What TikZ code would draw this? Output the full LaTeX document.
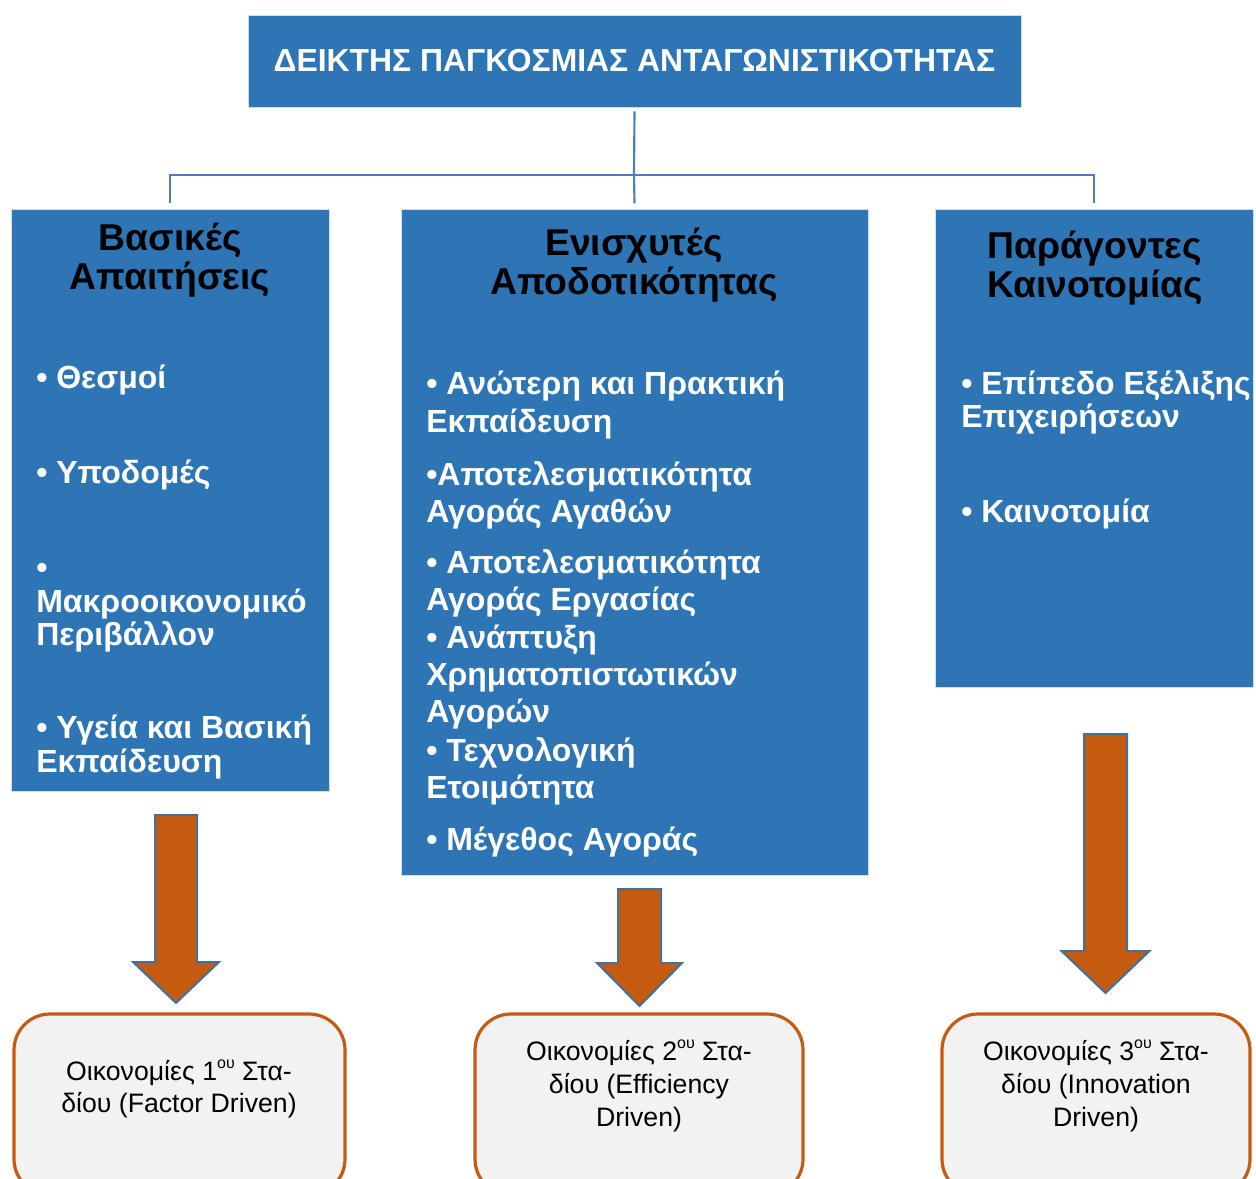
\documentclass[tikz,border=0pt]{standalone}
\usepackage{fontspec}
\setmainfont{Liberation Sans}
\usetikzlibrary{fit}
\definecolor{boxblue}{RGB}{46,117,182}
\definecolor{boxedge}{RGB}{205,222,240}
\definecolor{linkblue}{RGB}{74,126,187}
\definecolor{arrowfill}{RGB}{197,90,17}
\definecolor{arrowline}{RGB}{65,113,156}
\definecolor{stagefill}{RGB}{242,242,242}
\definecolor{stageline}{RGB}{197,90,17}
\newcommand\blockarrowpath[6]{% x, ytop, ybase, ytip, half shaft, half head
  \draw[blockarrow] (#1-#5,#2) -- (#1+#5,#2) -- (#1+#5,#3) -- (#1+#6,#3) -- (#1,#4) -- (#1-#6,#3) -- (#1-#5,#3) -- cycle;}
\newcommand\ordsup[1]{\raisebox{0.42em}{\fontsize{12}{12}\selectfont #1}}
\begin{document}
\begin{tikzpicture}[x=0.75pt,y=-0.75pt,
  bluebox/.style={fill=boxblue, draw=boxedge, line width=0.6pt, inner sep=0pt},
  conn/.style={draw=linkblue, line width=1.6pt},
  stagebox/.style={fill=stagefill, draw=stageline, line width=2.4pt, rounded corners=27pt, inner sep=0pt},
  blockarrow/.style={fill=arrowfill, draw=arrowline, line width=1.5pt, line join=miter},
  titletext/.style={text=white, font=\fontsize{23.9}{28}\selectfont\bfseries, inner sep=0pt, anchor=base},
  headtext/.style={text=black, font=\fontsize{28}{30}\selectfont\bfseries, inner sep=0pt, anchor=base},
  itemtext/.style={text=white, font=\fontsize{24}{28}\selectfont\bfseries, inner sep=0pt, anchor=base west},
  stagetext/.style={text=black, font=\fontsize{20}{24}\selectfont, inner sep=0pt, anchor=base},
]
\useasboundingbox (0,0) rectangle (1256,1178);
\clip (0,0) rectangle (1256,1178);

% title
\node[bluebox, fit={(248,15)(1021,107)}] (title) {};
\node[titletext] (titlet) at (634.5,71) {ΔΕΙΚΤΗΣ ΠΑΓΚΟΣΜΙΑΣ ΑΝΤΑΓΩΝΙΣΤΙΚΟΤΗΤΑΣ};

% pillar boxes
\node[bluebox, fit={(11,209)(329,791)}] (b1) {};
\node[bluebox, fit={(401,209)(868,875)}] (b2) {};
\node[bluebox, fit={(935,209)(1253,687)}] (b3) {};

% tree connector
\coordinate (hub) at (634,175);
\draw[conn] ([yshift=-3]title.south) -- (hub);
\draw[conn] ([yshift=4]b1.north -| 170,0) |- (hub) -| ([yshift=4]b3.north);
\draw[conn] (hub) -- ([yshift=4]b2.north);

% headings
\node[headtext] (h1a) at (170,250) {Βασικές};
\node[headtext] (h1b) at (170,289) {Απαιτήσεις};
\node[headtext] (h2a) at (634,255) {Ενισχυτές};
\node[headtext] (h2b) at (634,294) {Αποδοτικότητας};
\node[headtext] (h3a) at (1095,258) {Παράγοντες};
\node[headtext] (h3b) at (1095,297) {Καινοτομίας};

% box 1 items
\node[itemtext] (i11) at (36,388) {• Θεσμοί};
\node[itemtext] (i12) at (36,483) {• Υποδομές};
\node[itemtext] (i13a) at (36,578) {•};
\node[itemtext] (i13b) at (36,612) {Μακροοικονομικό};
\node[itemtext] (i13c) at (36,645) {Περιβάλλον};
\node[itemtext] (i14a) at (36,738) {• Υγεία και Βασική};
\node[itemtext] (i14b) at (36,772) {Εκπαίδευση};

% box 2 items
\node[itemtext] (i21a) at (426,394) {• Ανώτερη και Πρακτική};
\node[itemtext] (i21b) at (426,432) {Εκπαίδευση};
\node[itemtext] (i22a) at (426,485) {•Αποτελεσματικότητα};
\node[itemtext] (i22b) at (426,522) {Αγοράς Αγαθών};
\node[itemtext] (i23a) at (426,573) {• Αποτελεσματικότητα};
\node[itemtext] (i23b) at (426,610) {Αγοράς Εργασίας};
\node[itemtext] (i24a) at (426,648) {• Ανάπτυξη};
\node[itemtext] (i24b) at (426,685) {Χρηματοπιστωτικών};
\node[itemtext] (i24c) at (426,722) {Αγορών};
\node[itemtext] (i25a) at (426,761) {• Τεχνολογική};
\node[itemtext] (i25b) at (426,798) {Ετοιμότητα};
\node[itemtext] (i26) at (426,850) {• Μέγεθος Αγοράς};

% box 3 items
\node[itemtext] (i31a) at (961,394) {• Επίπεδο Εξέλιξης};
\node[itemtext] (i31b) at (961,427) {Επιχειρήσεων};
\node[itemtext] (i32) at (961,522) {• Καινοτομία};

% block arrows
\blockarrowpath{176}{815}{962}{1003}{21}{43}
\blockarrowpath{639.5}{889}{963}{1006}{21.5}{42.5}
\blockarrowpath{1105.5}{734}{951}{993}{21.5}{44}

% stage boxes
\node[stagebox, fit={(14,1014)(345,1195)}] (s1) {};
\node[stagebox, fit={(475,1014)(803,1195)}] (s2) {};
\node[stagebox, fit={(942,1014)(1250,1195)}] (s3) {};

\node[stagetext] (s1a) at (179,1080) {Οικονομίες 1\ordsup{ου} Στα-};
\node[stagetext] (s1b) at (179,1112) {δίου (Factor Driven)};
\node[stagetext] (s2a) at (639,1060) {Οικονομίες 2\ordsup{ου} Στα-};
\node[stagetext] (s2b) at (639,1093) {δίου (Efficiency};
\node[stagetext] (s2c) at (639,1126) {Driven)};
\node[stagetext] (s3a) at (1096,1060) {Οικονομίες 3\ordsup{ου} Στα-};
\node[stagetext] (s3b) at (1096,1093) {δίου (Innovation};
\node[stagetext] (s3c) at (1096,1126) {Driven)};
\end{tikzpicture}
\end{document}
